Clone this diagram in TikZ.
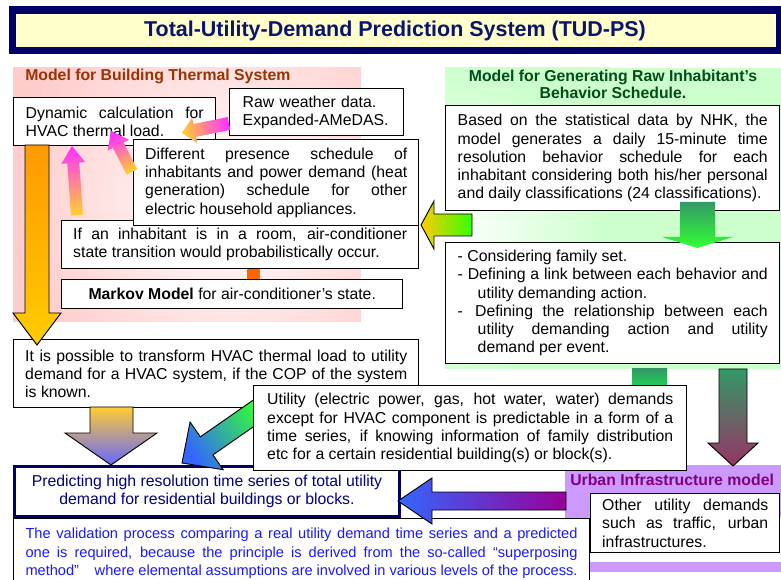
\documentclass[tikz,border=0pt]{standalone}
\usepackage{fontspec}
\setmainfont{Liberation Sans}
\usetikzlibrary{calc}
\newlength\pxu
\setlength\pxu{0.75pt}
\tolerance=10000
\hbadness=10000
\newcommand\myBody{\fontsize{11.85}{13.7}\selectfont}
\newcommand\myVal{\fontsize{10.95}{14}\selectfont}
% #1 options, #2 tail, #3 tip, #4 shaft half width, #5 head half width, #6 head length, #7 base name
\newcommand\fatarrow[7]{%
  \coordinate (#7) at ($(#3)!#6!(#2)$);
  \path[#1] ($(#2)!#4!90:(#3)$) -- ($(#7)!#4!90:(#3)$) -- ($(#7)!#5!90:(#3)$) -- (#3)
    -- ($(#7)!#5!-90:(#3)$) -- ($(#7)!#4!-90:(#3)$) -- ($(#2)!#4!-90:(#3)$) -- cycle;
}
\definecolor{navyT}{RGB}{0,0,102}
\definecolor{titleFill}{RGB}{255,255,204}
\definecolor{titleTxt}{RGB}{10,20,110}
\definecolor{pinkR}{RGB}{255,204,204}
\definecolor{greenR}{RGB}{204,255,204}
\definecolor{purpR}{RGB}{204,153,255}
\definecolor{brownT}{RGB}{153,51,0}
\definecolor{greenT}{RGB}{0,77,26}
\definecolor{purpT}{RGB}{128,0,128}
\definecolor{magA}{RGB}{255,51,255}
\definecolor{yelA}{RGB}{255,204,51}
\definecolor{orgA}{RGB}{255,153,0}
\definecolor{yelB}{RGB}{255,204,0}
\definecolor{limeA}{RGB}{51,255,0}
\definecolor{dgreenA}{RGB}{51,153,102}
\definecolor{bgreenA}{RGB}{51,255,51}
\definecolor{barG}{RGB}{34,204,85}
\definecolor{maroonA}{RGB}{153,51,102}
\definecolor{blueA}{RGB}{51,102,255}
\definecolor{purpA}{RGB}{153,0,153}
\definecolor{violA}{RGB}{102,102,255}
\definecolor{orangeBar}{RGB}{255,102,0}
\definecolor{predTxt}{RGB}{0,0,128}
\definecolor{valTxt}{RGB}{25,25,255}
\begin{document}
\begin{tikzpicture}[x=0.75pt,y=-0.75pt,
  box/.style={draw=black, line width=1.1pt, fill=white, inner sep=0pt, anchor=north west, font=\myBody},
  lbl/.style={font=\myBody\bfseries, inner sep=0pt},
  arr/.style={draw=black, line width=0.7pt}]
\useasboundingbox (0,0) rectangle (781,580);

% title
\fill[navyT] (9,6) rectangle (781,54);
\fill[titleFill] (16,14) rectangle (776,47);
\node[font=\fontsize{16.1}{19}\selectfont\bfseries, text=titleTxt, inner sep=0pt] (title) at (395,30.5) {Total-Utility-Demand Prediction System (TUD-PS)};

% regions
\fill[pinkR] (13,68) rectangle (361,322);
\begin{scope}
\clip (13,68) rectangle (361,322);
\shade[inner color=white, outer color=pinkR] (10,-20) rectangle (450,420);
\end{scope}
\fill[greenR] (445,68) rectangle (781,369);
\begin{scope}
\clip (445,68) rectangle (781,369);
\shade[inner color=white, outer color=greenR] (290,68) rectangle (610,388);
\end{scope}
\fill[purpR] (565,465) rectangle (781,518);
\fill[purpR] (590,562) rectangle (781,572);

% small bars
\fill[orangeBar] (247,268) rectangle (260,279);
\shade[top color=dgreenA, bottom color=barG] (632,369) rectangle (667,385);
\fill[navyT] (247,515) rectangle (260,518);

% region titles
\node[lbl, text=brownT, anchor=west] (tBuild) at (25,76) {Model for Building Thermal System};
\node[lbl, text=greenT, align=center, font=\fontsize{11.85}{12.75}\selectfont\bfseries] (tGen) at (613,84.5) {Model for Generating Raw Inhabitant’s\\Behavior Schedule.};
\node[lbl, text=purpT, anchor=west] (tUrb) at (570,480) {Urban Infrastructure model};

% boxes
\node[box, minimum width=202\pxu, minimum height=48\pxu, text width=178\pxu, align=justify] (dyn) at (13,97) {Dynamic calculation for\linebreak HVAC thermal load.};
\node[box, minimum width=174\pxu, minimum height=47\pxu, text width=148\pxu, align=left] (raw) at (229,88) {Raw weather data.\\Expanded-AMeDAS.};
\node[box, minimum width=357\pxu, minimum height=48\pxu, text width=334\pxu, align=justify] (ifan) at (61,220) {If an inhabitant is in a room, air-conditioner\linebreak state transition would probabilistically occur.};
\node[box, minimum width=285\pxu, minimum height=86\pxu, text width=262\pxu, align=justify] (diff) at (133,139) {Different presence schedule of\linebreak inhabitants and power demand (heat\linebreak generation) schedule for other\linebreak electric household appliances.};
\node[box, minimum width=341\pxu, minimum height=29\pxu] (markov) at (61,279) {\textbf{Markov Model} for air-conditioner’s state.};
\node[box, minimum width=334\pxu, minimum height=105\pxu, text width=310\pxu, align=justify] (nhk) at (445,105) {Based on the statistical data by NHK, the\linebreak model generates a daily 15-minute time\linebreak resolution behavior schedule for each\linebreak inhabitant considering both his/her personal\linebreak and daily classifications (24 classifications).};
\node[box, minimum width=334\pxu, minimum height=121\pxu, text width=310\pxu, align=justify] (cons) at (445,242) {\parindent=0pt
\hangindent=20\pxu\hangafter=1\noindent - Considering family set.\par
\hangindent=20\pxu\hangafter=1\noindent - Defining a link between each behavior and\linebreak utility demanding action.\par
\hangindent=20\pxu\hangafter=1\noindent - \,Defining the relationship between each\linebreak utility demanding action and utility\linebreak demand per event.\par};
\node[box, minimum width=405\pxu, minimum height=68\pxu, text width=382\pxu, align=justify] (poss) at (13,339) {It is possible to transform HVAC thermal load to utility\linebreak demand for a HVAC system, if the COP of the system\linebreak is known.};
\node[box, draw=navyT, line width=2.2pt, minimum width=385\pxu, minimum height=50\pxu, align=center, text=predTxt] (pred) at (13,465) {Predicting high resolution time series of total utility\\demand for residential buildings or blocks.};
\node[box, line width=0.8pt, minimum width=576\pxu, minimum height=70\pxu, text width=552\pxu, align=justify, font=\myVal, text=valTxt] (valid) at (13,518) {The validation process comparing a real utility demand time series and a predicted\linebreak one is required, because the principle is derived from the so-called\hspace{0.5em}“superposing\linebreak method”\hspace{0.8em} where elemental assumptions are involved in various levels of the process.};
\node[box, minimum width=189\pxu, minimum height=59\pxu, text width=166\pxu, align=justify] (other) at (590,493) {Other utility demands\linebreak such as traffic, urban\linebreak infrastructures.};

% arrows
\path[arr, top color=orgA, bottom color=yelB] (25,145) -- (49,145) -- (49,313) -- (61,313) -- (37,345) -- (13,313) -- (25,313) -- cycle;
\coordinate (bT) at (77,215); \coordinate (bH) at (72,146);
\fatarrow{top color=magA, bottom color=yelA, shading angle=4.1}{bT}{bH}{4.5pt}{9pt}{12.75pt}{bB}
\coordinate (cT) at (132,172); \coordinate (cH) at (111,131);
\fatarrow{top color=magA, bottom color=yelA, shading angle=27.1}{cT}{cH}{4.5pt}{9pt}{12pt}{cB}
\coordinate (dT) at (229,123.5); \coordinate (dH) at (182,133);
\fatarrow{top color=yelA, bottom color=magA, shading angle=101.4}{dT}{dH}{4.9pt}{9.75pt}{9.75pt}{dB}
\path[arr, left color=yelB, right color=limeA] (472,214) -- (434,214) -- (434,201) -- (421,225) -- (434,249) -- (434,236) -- (472,236) -- cycle;
\path[top color=dgreenA, bottom color=bgreenA] (680,202) -- (715,202) -- (715,237) -- (733,237) -- (697.5,248) -- (662,237) -- (680,237) -- cycle;
\path[arr, top color=dgreenA, bottom color=maroonA] (719,369) -- (747,369) -- (747,443) -- (758,443) -- (733,466) -- (708,443) -- (719,443) -- cycle;
\path[arr, left color=blueA, right color=purpA] (566,492) -- (432,492) -- (432,478) -- (398,501) -- (432,524) -- (432,510) -- (566,510) -- cycle;
\path[arr, top color=yelA, bottom color=violA] (90,407) -- (133,407) -- (133,433) -- (157,433) -- (111,465) -- (65,433) -- (90,433) -- cycle;
\coordinate (kT) at (264,406); \coordinate (kH) at (182,463);
\fatarrow{arr, top color=blueA, bottom color=bgreenA, shading angle=124.8}{kT}{kH}{8.25pt}{21.75pt}{22.5pt}{kB}

\node[box, minimum width=433\pxu, minimum height=85\pxu, text width=406\pxu, align=justify] (util) at (253,385) {Utility (electric power, gas, hot water, water) demands\linebreak except for HVAC component is predictable in a form of a\linebreak time series, if knowing information of family distribution\linebreak etc for a certain residential building(s) or block(s).};
\end{tikzpicture}
\end{document}
